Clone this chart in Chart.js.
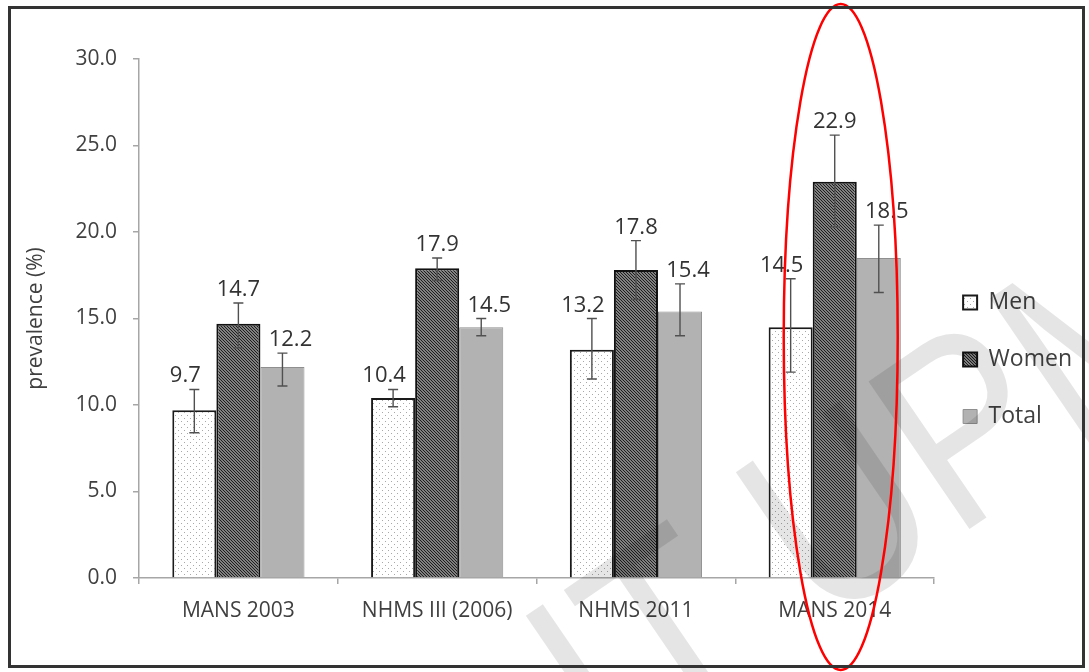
<!DOCTYPE html>
<html>
<head>
<meta charset="utf-8">
<script src="https://cdn.jsdelivr.net/npm/chart.js@4.4.1/dist/chart.umd.min.js"></script>
<style>
  html, body { margin: 0; padding: 0; background: #fff; }
  #wrap { width: 1089px; height: 672px; }
</style>
</head>
<body>
<div id="wrap"><canvas id="prevChart" width="1089" height="672"></canvas></div>
<script>
"use strict";

// Survey categories and prevalence (%) values
const surveys = ["MANS 2003", "NHMS III (2006)", "NHMS 2011", "MANS 2014"];
const menValues   = [9.7, 10.4, 13.2, 14.5];
const womenValues = [14.7, 17.9, 17.8, 22.9];
const totalValues = [12.2, 14.5, 15.4, 18.5];

// 95% CI
const menLow    = [8.4, 9.9, 11.5, 11.9];
const menHigh   = [10.9, 10.9, 15.0, 17.3];
const womenLow  = [13.3, 17.2, 16.1, 20.3];
const womenHigh = [15.9, 18.5, 19.5, 25.6];
const totalLow  = [11.1, 14.0, 14.0, 16.5];
const totalHigh = [13.0, 15.0, 17.0, 20.4];

const yTickLabels = ["0.0", "5.0", "10.0", "15.0", "20.0", "25.0", "30.0"];

Chart.defaults.font.family = "'Open Sans', sans-serif";
Chart.defaults.color = "#404040";

// fill patterns
function makePattern(size, paint) {
  const c = document.createElement("canvas");
  c.width = size; c.height = size;
  const g = c.getContext("2d");
  paint(g);
  return g.createPattern(c, "repeat");
}

const dotFill = makePattern(6, function (g) {
  g.fillStyle = "#ffffff";
  g.fillRect(0, 0, 6, 6);
  g.fillStyle = "#a8a8a8";
  g.fillRect(1, 1, 1, 1);
  g.fillRect(4, 4, 1, 1);
});

const hatchFill = makePattern(3, function (g) {
  g.fillStyle = "#808080";
  g.fillRect(0, 0, 3, 3);
  g.fillStyle = "#1e1e1e";
  for (let i = 0; i < 3; i++) g.fillRect(i, i, 1, 1);
});

const lowArr  = [menLow, womenLow, totalLow];
const highArr = [menHigh, womenHigh, totalHigh];
const labelShift = [-9, 0, 8];

const errorBars = {
  id: "errorBars",
  afterDatasetsDraw(chart) {
    const ctx = chart.ctx;
    const y = chart.scales.y;
    ctx.save();
    chart.data.datasets.forEach(function (ds, di) {
      const meta = chart.getDatasetMeta(di);
      meta.data.forEach(function (bar, i) {
        const top = y.getPixelForValue(highArr[di][i]);
        const bot = y.getPixelForValue(lowArr[di][i]);
        ctx.strokeStyle = "#505050";
        ctx.lineWidth = 1.4;
        ctx.beginPath();
        ctx.moveTo(bar.x, top); ctx.lineTo(bar.x, bot);
        ctx.moveTo(bar.x - 5, top); ctx.lineTo(bar.x + 5, top);
        ctx.moveTo(bar.x - 5, bot); ctx.lineTo(bar.x + 5, bot);
        ctx.stroke();

        ctx.fillStyle = "#333333";
        ctx.font = "22px 'Open Sans', sans-serif";
        ctx.textAlign = "center";
        ctx.textBaseline = "alphabetic";
        ctx.fillText(ds.data[i].toFixed(1), bar.x + labelShift[di], top - 7);
      });
    });
    ctx.restore();
  }
};

// nudge the legend to sit where the original puts it
const legendNudge = {
  id: "legendNudge",
  afterLayout(chart) {
    const lg = chart.legend;
    lg.left -= 5; lg.right -= 5;
    lg.top += 11; lg.bottom += 11;
  }
};

const decorations = {
  id: "decorations",
  beforeDraw(chart) {
    const ctx = chart.ctx;
    ctx.save();
    ctx.fillStyle = "#ffffff";
    ctx.fillRect(0, 0, chart.width, chart.height);
    ctx.restore();
  },
  afterDraw(chart) {
    const ctx = chart.ctx;
    const x = chart.scales.x;

    // faint watermark
    ctx.save();
    ctx.translate(610, 775);
    ctx.rotate(-0.6);
    ctx.scale(0.85, 1);
    ctx.fillStyle = "rgba(0,0,0,0.1)";
    ctx.font = "260px 'Liberation Sans', sans-serif";
    ctx.textBaseline = "alphabetic";
    ctx.fillText("IT UPM", 0, 0);
    ctx.restore();

    // red ellipse round the last survey
    ctx.save();
    ctx.strokeStyle = "#ff0000";
    ctx.lineWidth = 2.5;
    ctx.beginPath();
    ctx.ellipse(x.getPixelForValue(3) + 6, 337, 57, 333, 0, 0, Math.PI * 2);
    ctx.stroke();
    ctx.restore();

    // outer frame
    ctx.save();
    ctx.strokeStyle = "#333333";
    ctx.lineWidth = 3;
    ctx.strokeRect(9.5, 7.5, 1074, 659);
    ctx.restore();
  }
};

new Chart(document.getElementById("prevChart"), {
  type: "bar",
  data: {
    labels: surveys,
    datasets: [
      { label: "Men",   data: menValues,   backgroundColor: dotFill,   borderColor: "#1a1a1a", borderWidth: 2 },
      { label: "Women", data: womenValues, backgroundColor: hatchFill, borderColor: "#111111", borderWidth: 2 },
      { label: "Total", data: totalValues, backgroundColor: "#b2b2b2", borderColor: "#8f8f8f", borderWidth: 1 }
    ]
  },
  options: {
    responsive: false,
    animation: false,
    events: [],
    layout: { padding: { left: 19, top: 59, right: 2, bottom: 34 } },
    datasets: { bar: { categoryPercentage: 0.665, barPercentage: 1.0 } },
    scales: {
      x: {
        grid: { offset: true, drawOnChartArea: false, tickLength: 6, color: "#a6a6a6", lineWidth: 1.5 },
        border: { color: "#a6a6a6", width: 1.5 },
        ticks: { font: { size: 21 }, color: "#404040", padding: 14 },
        afterFit(scale) { scale.height = 60; }
      },
      y: {
        min: 0,
        max: 30,
        grid: { drawOnChartArea: false, tickLength: 6, color: "#a6a6a6", lineWidth: 1.5 },
        border: { color: "#a6a6a6", width: 1.5 },
        ticks: {
          stepSize: 5,
          padding: 16,
          font: { size: 21 },
          color: "#404040",
          callback: function (v, i) { return yTickLabels[i]; }
        },
        title: { display: true, text: "prevalence (%)", font: { size: 21 }, color: "#404040" },
        afterFit(scale) { scale.width = 120; }
      }
    },
    plugins: {
      legend: {
        position: "right",
        labels: { boxWidth: 14, boxHeight: 14, padding: 34, font: { size: 23 }, color: "#404040" }
      },
      tooltip: { enabled: false }
    }
  },
  plugins: [errorBars, legendNudge, decorations]
});
</script>
</body>
</html>
